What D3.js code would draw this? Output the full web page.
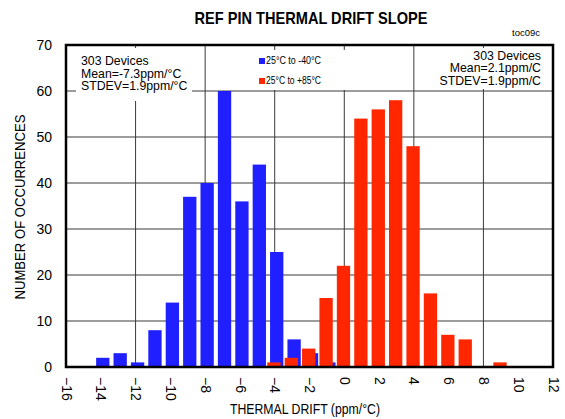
<!DOCTYPE html>
<html>
<head>
<meta charset="utf-8">
<script src="https://cdn.jsdelivr.net/npm/d3@7"></script>
<style>
  body { margin: 0; background: #fff; }
  text { font-family: "Liberation Sans", Arial, sans-serif; }
</style>
</head>
<body>
<div id="chart"></div>
<script>
// histogram data (bin centre in ppm/°C, count)
var coldBins   = [-14, -13, -12, -11, -10, -9, -8, -7, -6, -5, -4, -3, -2, -1];
var coldCounts = [  2,   3,   1,   8,  14, 37, 40, 60, 36, 44, 25,  6,  3,  1];
var hotBins    = [-4, -3, -2, -1,  0,  1,  2,  3,  4,  5, 6, 7, 9];
var hotCounts  = [ 1,  2,  4, 15, 22, 54, 56, 58, 48, 16, 7, 6, 1];
var xTickVals  = [-16, -14, -12, -10, -8, -6, -4, -2, 0, 2, 4, 6, 8, 10, 12];
var xGridVals  = [-12, -8, -4, 0, 4, 8];
var yTickVals  = [0, 10, 20, 30, 40, 50, 60, 70];
var legendLabels = ["25°C to -40°C", "25°C to +85°C"];
var leftNote  = ["303 Devices", "Mean=-7.3ppm/°C", "STDEV=1.9ppm/°C"];
var rightNote = ["303 Devices", "Mean=2.1ppm/C", "STDEV=1.9ppm/C"];

var coldData = coldBins.map(function(b, i) { return {bin: b, n: coldCounts[i]}; });
var hotData  = hotBins.map(function(b, i) { return {bin: b, n: hotCounts[i]}; });

var W = 565, H = 419;
var margin = {top: 45, right: 12, bottom: 52, left: 66},
    width = W - margin.left - margin.right,
    height = H - margin.top - margin.bottom;

var blue = "#1f1fff", red = "#ff2600";

var svg = d3.select("#chart").append("svg")
    .attr("width", W).attr("height", H);

// title + figure code (the original uses a narrow face, so squeeze to width)
svg.append("text")
    .attr("x", 311).attr("y", 24)
    .attr("text-anchor", "middle")
    .attr("textLength", 233).attr("lengthAdjust", "spacingAndGlyphs")
    .style("font-size", "17px").style("font-weight", "bold")
    .text("REF PIN THERMAL DRIFT SLOPE");
svg.append("text")
    .attr("x", 540).attr("y", 36)
    .attr("text-anchor", "end")
    .style("font-size", "9.5px")
    .text("toc09c");

var g = svg.append("g")
    .attr("transform", "translate(" + margin.left + "," + margin.top + ")");

var x = d3.scaleLinear().domain([-16, 12]).range([0, width]);
var y = d3.scaleLinear().domain([0, 70]).range([height, 0]);
var barW = 0.765 * (x(1) - x(0));

// grid
g.append("g").selectAll("line").data(yTickVals.slice(1, -1)).enter().append("line")
    .attr("x1", 0).attr("x2", width)
    .attr("y1", function(d) { return y(d); }).attr("y2", function(d) { return y(d); })
    .attr("stroke", "#3a3a3a").attr("stroke-width", 1);
g.append("g").selectAll("line").data(xGridVals).enter().append("line")
    .attr("y1", 0).attr("y2", height)
    .attr("x1", function(d) { return x(d); }).attr("x2", function(d) { return x(d); })
    .attr("stroke", "#3a3a3a").attr("stroke-width", 1);

// white boxes behind the notes and legend (they hide the grid)
g.append("rect").attr("x", 10).attr("y", 3).attr("width", 116).attr("height", 53).attr("fill", "#fff");
g.append("rect").attr("x", 176).attr("y", 5).attr("width", 158).attr("height", 40).attr("fill", "#fff");
g.append("rect").attr("x", 352).attr("y", 3).attr("width", 130).attr("height", 41).attr("fill", "#fff");

// bars: cold (blue) first, hot (red) on top
g.append("g").selectAll("rect").data(coldData).enter().append("rect")
    .attr("x", function(d) { return x(d.bin) + 2 - barW / 2; })
    .attr("width", barW)
    .attr("y", function(d) { return y(d.n); })
    .attr("height", function(d) { return height - y(d.n); })
    .attr("fill", blue);
g.append("g").selectAll("rect").data(hotData).enter().append("rect")
    .attr("x", function(d) { return x(d.bin) - 0.8 - barW / 2; })
    .attr("width", barW)
    .attr("y", function(d) { return y(d.n); })
    .attr("height", function(d) { return height - y(d.n); })
    .attr("fill", red);

// frame
g.append("rect").attr("width", width).attr("height", height)
    .attr("fill", "none").attr("stroke", "#000").attr("stroke-width", 2.5);

// y axis labels
var yAxis = g.append("g").call(d3.axisLeft(y).tickValues(yTickVals).tickSize(0).tickPadding(14));
yAxis.select(".domain").remove();
yAxis.selectAll("text").style("font-size", "14px").attr("fill", "#000");

// x axis labels, rotated
var xAxis = g.append("g").attr("transform", "translate(0," + height + ")")
    .call(d3.axisBottom(x).tickValues(xTickVals).tickSize(0));
xAxis.select(".domain").remove();
xAxis.selectAll("text")
    .style("font-size", "14px").attr("fill", "#000")
    .attr("text-anchor", "start")
    .attr("transform", "rotate(90)")
    .attr("x", 10).attr("y", 0).attr("dy", "0.35em");

// axis titles
svg.append("text")
    .attr("text-anchor", "middle")
    .attr("transform", "translate(25," + 207 + ")rotate(-90)")
    .attr("textLength", 185).attr("lengthAdjust", "spacingAndGlyphs")
    .style("font-size", "14.5px")
    .text("NUMBER OF OCCURRENCES");
svg.append("text")
    .attr("x", 305).attr("y", 414)
    .attr("text-anchor", "middle")
    .attr("textLength", 150).attr("lengthAdjust", "spacingAndGlyphs")
    .style("font-size", "14.5px")
    .text("THERMAL DRIFT (ppm/°C)");

// notes
g.append("g").selectAll("text").data(leftNote).enter().append("text")
    .attr("x", 15).attr("y", function(d, i) { return 20 + i * 12.5; })
    .style("font-size", "12.3px")
    .text(function(d) { return d; });
g.append("g").selectAll("text").data(rightNote).enter().append("text")
    .attr("x", width - 12).attr("y", function(d, i) { return 14.6 + i * 12.5; })
    .attr("text-anchor", "end")
    .style("font-size", "12.3px")
    .text(function(d) { return d; });

// legend
var leg = g.append("g").attr("transform", "translate(193,13)");
leg.selectAll("rect").data([blue, red]).enter().append("rect")
    .attr("x", 0).attr("y", function(d, i) { return i * 20; })
    .attr("width", 6).attr("height", 6)
    .attr("fill", function(d) { return d; });
leg.selectAll("text").data(legendLabels).enter().append("text")
    .attr("x", 7).attr("y", function(d, i) { return 6 + i * 20; })
    .attr("textLength", 55).attr("lengthAdjust", "spacingAndGlyphs")
    .style("font-size", "10px")
    .text(function(d) { return d; });
</script>
</body>
</html>
